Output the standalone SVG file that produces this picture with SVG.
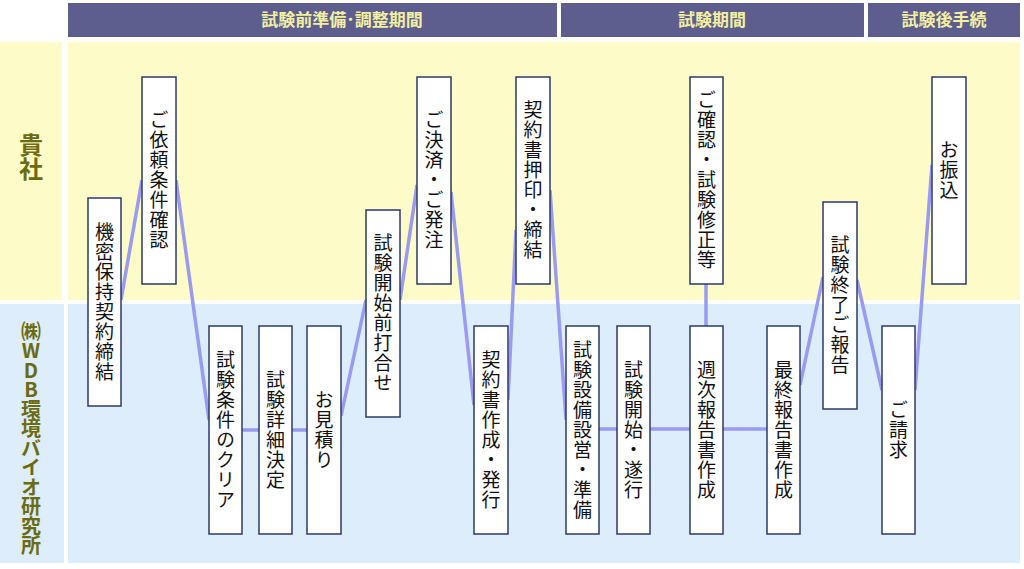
<svg xmlns="http://www.w3.org/2000/svg" width="1024" height="569" viewBox="0 0 1024 569">
<style>
.hdr{fill:#5e5e8e}
.ht{fill:#f2f0a0;font-family:"Noto Sans CJK JP",sans-serif;font-weight:bold;font-size:17px;text-anchor:middle}
.box{fill:#fff;stroke:#2a3a6a;stroke-width:1.5}
.bt{font-family:"Noto Sans CJK JP",sans-serif;font-size:19px;letter-spacing:1px;fill:#111;writing-mode:vertical-rl;text-anchor:middle;text-orientation:upright}
.lane{font-family:"Noto Sans CJK JP",sans-serif;font-weight:bold;fill:#6b6b10;text-anchor:middle;writing-mode:vertical-rl;text-orientation:upright}
.c{stroke:#9a9af0;stroke-width:3.5;fill:none}
</style>
<rect x="0" y="0" width="1024" height="569" fill="#fff"/>
<rect x="0" y="42" width="62" height="258" fill="#fdfbc8"/>
<rect x="68" y="42" width="952" height="258" fill="#fdfbc8"/>
<rect x="0" y="304" width="64" height="259" fill="#ddedfb"/>
<rect x="68" y="304" width="952" height="259" fill="#ddedfb"/>
<g id="headers">
<rect class="hdr" x="68" y="3" width="489" height="34"/><text class="ht" x="342" y="26">試験前準備･調整期間</text>
<rect class="hdr" x="561" y="3" width="303" height="34"/><text class="ht" x="712" y="26">試験期間</text>
<rect class="hdr" x="868" y="3" width="152" height="34"/><text class="ht" x="944" y="26">試験後手続</text>
</g>
<g id="lanes">
<text class="lane" x="31" y="157" font-size="24">貴社</text>
<text class="lane" x="31" y="438" font-size="20" letter-spacing="-0.5">㈱WDB環境バイオ研究所</text>
</g>
<g id="connectors">
<polyline class="c" points="121,300 142,180"/>
<polyline class="c" points="176,180 209,420"/>
<line class="c" x1="242" y1="430" x2="259" y2="430"/>
<line class="c" x1="292" y1="430" x2="307" y2="430"/>
<polyline class="c" points="341,416 366,300"/>
<polyline class="c" points="400,300 417,185"/>
<polyline class="c" points="451,192 474,405"/>
<polyline class="c" points="508,400 516,230"/>
<polyline class="c" points="550,190 566,420"/>
<line class="c" x1="599" y1="429" x2="617" y2="429"/>
<line class="c" x1="650" y1="429" x2="690" y2="429"/>
<line class="c" x1="706" y1="284" x2="706" y2="326"/>
<line class="c" x1="723" y1="429" x2="767" y2="429"/>
<polyline class="c" points="800,385 823,277"/>
<polyline class="c" points="857,280 882,390"/>
<polyline class="c" points="915,390 932,165"/>
</g>
<g id="n1"><rect class="box" x="88" y="198" width="33" height="208"/><text class="bt" x="104.5" y="302">機密保持契約締結</text></g>
<g id="n2"><rect class="box" x="142" y="77" width="34" height="207"/><text class="bt" x="159" y="180">ご依頼条件確認</text></g>
<g id="n3"><rect class="box" x="209" y="326" width="33" height="208"/><text class="bt" x="225.5" y="430">試験条件のクリア</text></g>
<g id="n4"><rect class="box" x="259" y="326" width="33" height="208"/><text class="bt" x="275.5" y="430">試験詳細決定</text></g>
<g id="n5"><rect class="box" x="307" y="326" width="34" height="208"/><text class="bt" x="324" y="430">お見積り</text></g>
<g id="n6"><rect class="box" x="366" y="210" width="34" height="207"/><text class="bt" x="383" y="313">試験開始前打合せ</text></g>
<g id="n7"><rect class="box" x="417" y="77" width="34" height="207"/><text class="bt" x="434" y="180">ご決済・ご発注</text></g>
<g id="n8"><rect class="box" x="474" y="326" width="34" height="208"/><text class="bt" x="491" y="430">契約書作成・発行</text></g>
<g id="n9"><rect class="box" x="516" y="77" width="34" height="207"/><text class="bt" x="533" y="180">契約書押印・締結</text></g>
<g id="n10"><rect class="box" x="566" y="326" width="33" height="208"/><text class="bt" x="582.5" y="430">試験設備設営・準備</text></g>
<g id="n11"><rect class="box" x="617" y="326" width="33" height="208"/><text class="bt" x="633.5" y="430">試験開始・遂行</text></g>
<g id="n12"><rect class="box" x="690" y="77" width="33" height="207"/><text class="bt" x="706.5" y="180">ご確認・試験修正等</text></g>
<g id="n13"><rect class="box" x="690" y="326" width="33" height="208"/><text class="bt" x="706.5" y="430">週次報告書作成</text></g>
<g id="n14"><rect class="box" x="767" y="326" width="33" height="208"/><text class="bt" x="783.5" y="430">最終報告書作成</text></g>
<g id="n15"><rect class="box" x="823" y="202" width="34" height="207"/><text class="bt" x="840" y="305">試験終了ご報告</text></g>
<g id="n16"><rect class="box" x="882" y="326" width="33" height="208"/><text class="bt" x="898.5" y="430">ご請求</text></g>
<g id="n17"><rect class="box" x="932" y="77" width="34" height="207"/><text class="bt" x="949" y="170">お振込</text></g>
</svg>
